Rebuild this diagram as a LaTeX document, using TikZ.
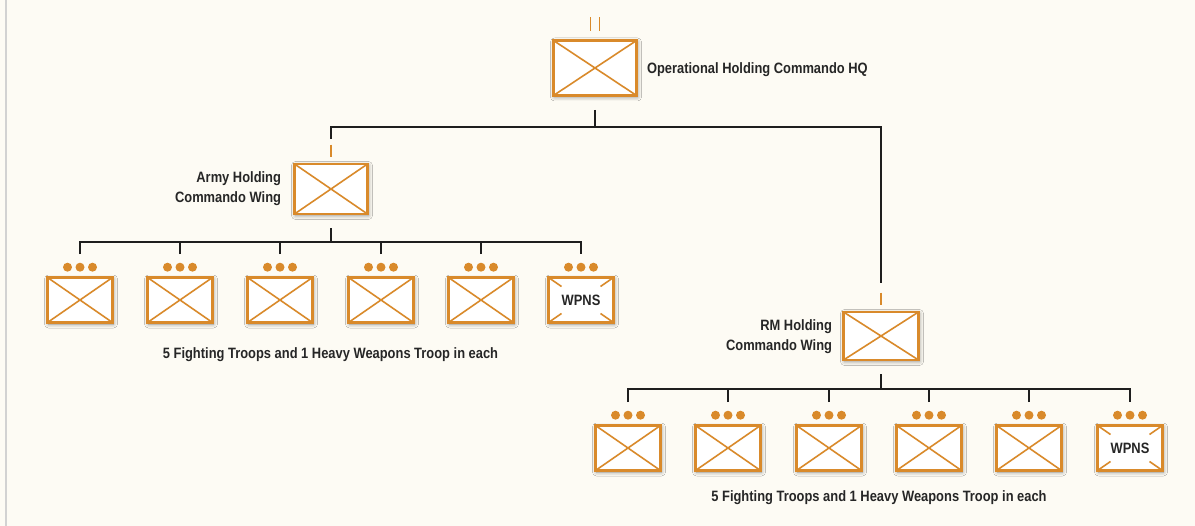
\documentclass[tikz,border=0pt]{standalone}
\usepackage{fontspec}
\setmainfont{Liberation Sans}[FakeStretch=0.86]
\usepackage{xcolor}
\usetikzlibrary{calc,positioning,shadows.blur}
\definecolor{color_page}{HTML}{FDFBF4}
\definecolor{color_orange}{HTML}{D98A2B}
\definecolor{color_line}{HTML}{1E1E1E}
\definecolor{color_text}{HTML}{262626}
\definecolor{color_edge}{HTML}{D2D2D2}

\tikzset{
	unit/.style={draw=color_orange, line width=2.6pt, fill=white, inner sep=0pt,
		minimum width=65pt, minimum height=45pt,
		blur shadow={shadow xshift=1pt, shadow yshift=-1.5pt,
			shadow blur radius=4pt, shadow opacity=45}},
	unitcross/.style={unit, path picture={
			\draw[color_orange, line width=1.6pt]
				(path picture bounding box.north west) -- (path picture bounding box.south east)
				(path picture bounding box.south west) -- (path picture bounding box.north east);
		}},
	unitwpns/.style={unit, text=color_text, font=\bfseries\fontsize{15}{18}\selectfont,
		path picture={
			\draw[color_orange, line width=1.6pt]
				(path picture bounding box.north west) -- ($(path picture bounding box.north west)!0.2!(path picture bounding box.south east)$)
				(path picture bounding box.south east) -- ($(path picture bounding box.south east)!0.2!(path picture bounding box.north west)$)
				(path picture bounding box.south west) -- ($(path picture bounding box.south west)!0.2!(path picture bounding box.north east)$)
				(path picture bounding box.north east) -- ($(path picture bounding box.north east)!0.2!(path picture bounding box.south west)$);
		}},
	orgline/.style={color_line, line width=1.6pt},
	echelon/.style={color_orange, line width=1.6pt},
	unittext/.style={text=color_text, font=\bfseries\fontsize{15}{20}\selectfont, inner sep=0pt},
}

\begin{document}
\begin{tikzpicture}[x=1pt,y=-1pt]
	\useasboundingbox (0,0) rectangle (1195,526);
	% Page
	\fill[color_page] (0,0) rectangle (1195,526);
	\draw[color_edge, line width=2pt] (6,0) -- (6,526);

	% Headquarters and wings
	\node[unitcross, minimum width=83pt, minimum height=55pt] (hq) at (595,68) {};
	\node[unitcross, minimum width=73pt, minimum height=50pt] (armywing) at (331,189) {};
	\node[unitcross, minimum width=75pt, minimum height=48pt] (rmwing) at (881,336) {};

	\node[unittext, anchor=west] (hqtext) at ($(hq.east)+(9,2)$) {Operational Holding Commando HQ};
	\node[unittext, anchor=east, align=right] (armytext) at ($(armywing.west)+(-12,0)$) {Army Holding\\Commando Wing};
	\node[unittext, anchor=east, align=right] (rmtext) at ($(rmwing.west)+(-10,1)$) {RM Holding\\Commando Wing};

	% Troops
	\foreach \i/\x in {1/80,2/180,3/280,4/381,5/481}
		\node[unitcross] (at\i) at (\x,300) {};
	\node[unitwpns] (at6) at (581,300) {WPNS};
	\foreach \i/\x in {1/628,2/728,3/829,4/929,5/1029}
		\node[unitcross] (rt\i) at (\x,448) {};
	\node[unitwpns] (rt6) at (1130,448) {WPNS};

	\foreach \n in {at1,at2,at3,at4,at5,at6,rt1,rt2,rt3,rt4,rt5,rt6}
		\fill[color_orange]
			($(\n.north)+(-12.5,-9)$) circle (4.5pt)
			($(\n.north)+(0,-9)$) circle (4.5pt)
			($(\n.north)+(12.5,-9)$) circle (4.5pt)
			;

	\node[unittext] (armynote) at ($(at3.south)!0.5!(at4.south)+(0,31)$) {5 Fighting Troops and 1 Heavy Weapons Troop in each};
	\node[unittext] (rmnote) at ($(rt3.south)!0.5!(rt4.south)+(0,26)$) {5 Fighting Troops and 1 Heavy Weapons Troop in each};

	% Echelon marks
	\draw[echelon]
		($(hq.north)+(-4.5,-22)$) -- ($(hq.north)+(-4.5,-8)$)
		($(hq.north)+(4.5,-22)$) -- ($(hq.north)+(4.5,-8)$)
		($(armywing.north)+(0,-18)$) -- ($(armywing.north)+(0,-6)$)
		($(rmwing.north)+(0,-18)$) -- ($(rmwing.north)+(0,-6)$)
		;

	% Command lines
	\coordinate (hqbus) at ($(hq.south)+(0,30)$);
	\coordinate (armybus) at ($(armywing.south)+(0,27)$);
	\coordinate (rmbus) at ($(rmwing.south)+(0,28)$);

	\draw[orgline] ($(hq.south)+(0,13)$) -- (hqbus);
	\draw[orgline] ($(armywing.north)+(0,-24)$) |- (hqbus) -| ($(rmwing.north)+(0,-28)$);

	\draw[orgline] ($(armywing.south)+(0,13)$) -- (armybus);
	\draw[orgline] ($(at1.north)+(0,-22)$) |- (armybus) -| ($(at6.north)+(0,-22)$);
	\foreach \n in {at2,at3,at4,at5}
		\draw[orgline] ($(\n.north)+(0,-22)$) -- (\n.north |- armybus);

	\draw[orgline] ($(rmwing.south)+(0,13)$) -- (rmbus);
	\draw[orgline] ($(rt1.north)+(0,-22)$) |- (rmbus) -| ($(rt6.north)+(0,-22)$);
	\foreach \n in {rt2,rt3,rt4,rt5}
		\draw[orgline] ($(\n.north)+(0,-22)$) -- (\n.north |- rmbus);
\end{tikzpicture}
\end{document}
